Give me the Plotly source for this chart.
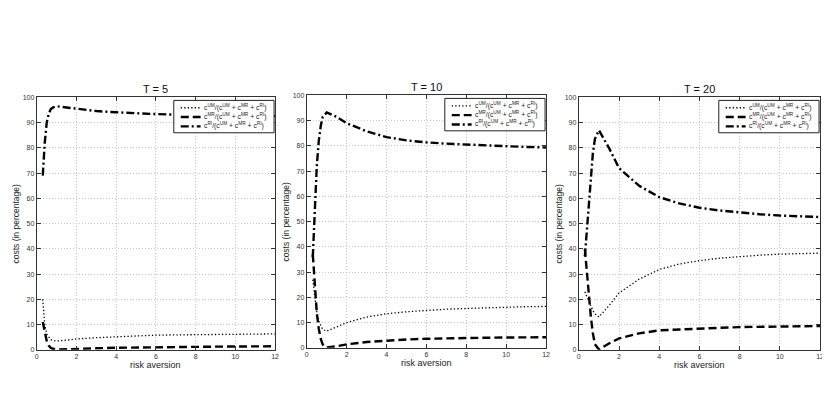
import plotly.graph_objects as go

# ---------------- data ----------------
risk_aversion = [0.3, 0.4, 0.5, 0.6, 0.7, 0.8, 1.0, 1.5, 2, 3, 4, 5, 6, 7, 8, 9, 10, 11, 12]

titles = ["T = 5", "T = 10", "T = 20"]

um_T5 = [20, 10, 6.2, 4.8, 4.0, 3.7, 3.5, 3.8, 4.3, 4.8, 5.2, 5.5, 5.8, 5.9, 6.0, 6.1, 6.2, 6.25, 6.3]
mr_T5 = [11, 7, 3.5, 1.7, 0.8, 0.4, 0.1, 0.2, 0.4, 0.6, 0.8, 0.95, 1.05, 1.15, 1.2, 1.25, 1.3, 1.35, 1.4]
ri_T5 = [69, 82, 90, 93.5, 95.3, 96.0, 96.5, 96.0, 95.3, 94.6, 94.1, 93.7, 93.4, 93.2, 93.0, 92.9, 92.8, 92.7, 92.6]

um_T10 = [27, 20, 14, 10.5, 8.5, 7.3, 6.6, 8.3, 10, 12.2, 13.5, 14.3, 14.9, 15.3, 15.6, 15.9, 16.1, 16.3, 16.4]
mr_T10 = [37, 25, 14, 7.5, 3.5, 1.3, 0.1, 0.6, 1.4, 2.3, 2.9, 3.3, 3.6, 3.8, 3.9, 4.0, 4.1, 4.15, 4.2]
ri_T10 = [36, 55, 72, 82, 88, 91.5, 93.3, 91.5, 89, 85.8, 83.5, 82.2, 81.4, 80.9, 80.5, 80.2, 79.9, 79.6, 79.4]

um_T20 = [23, 21, 19, 17, 15.5, 14.3, 13, 17.5, 22.5, 28, 31.8, 34, 35.3, 36.3, 37, 37.5, 37.9, 38.1, 38.3]
mr_T20 = [40, 31, 21, 13, 6.5, 2.2, 0.1, 2.5, 4.5, 6.5, 7.7, 8.1, 8.4, 8.7, 9.0, 9.1, 9.2, 9.3, 9.4]
ri_T20 = [37, 48, 60, 70, 78, 83.5, 87, 80, 72, 65, 60.5, 58, 56.3, 55.2, 54.4, 53.7, 53.2, 52.9, 52.6]

x_ticks = [0, 2, 4, 6, 8, 10, 12]
y_ticks = [0, 10, 20, 30, 40, 50, 60, 70, 80, 90, 100]

series_names = [
    "c<sup>UM</sup>/(c<sup>UM</sup> + c<sup>MR</sup> + c<sup>RI</sup>)",
    "c<sup>MR</sup>/(c<sup>UM</sup> + c<sup>MR</sup> + c<sup>RI</sup>)",
    "c<sup>RI</sup>/(c<sup>UM</sup> + c<sup>MR</sup> + c<sup>RI</sup>)",
]
panels = [(um_T5, mr_T5, ri_T5), (um_T10, mr_T10, ri_T10), (um_T20, mr_T20, ri_T20)]

# ---------------- layout (pixel boxes, in window pixels) ----------------
OFF = 8                      # page body margin of the browser
W, H = 822, 388
def fx(px):
    return (px - OFF) / W
def fy(py):
    return 1 - (py - OFF) / H

boxes = [(35, 275, 95, 352), (307, 548, 93, 350), (581, 824, 95, 352)]
ytitle_x = [14, 286, 561]
title_y = [86, 84, 86]
styles = [
    dict(dash="1.3px,2.2px", width=1.3),
    dict(dash="8px,4px", width=2.4),
    dict(dash="8px,3px,2px,3px", width=2.4),
]
FONT = "Liberation Sans, Arial, sans-serif"

fig = go.Figure()
layout = dict(
    width=W, height=H, margin=dict(l=0, r=0, t=0, b=0),
    paper_bgcolor="white", plot_bgcolor="white", showlegend=False,
    font=dict(family=FONT, color="#222"), annotations=[], shapes=[],
)

for i, ((x0, x1, y0, y1), vals, title) in enumerate(zip(boxes, panels, titles)):
    n = "" if i == 0 else str(i + 1)
    for j, (v, name) in enumerate(zip(vals, series_names)):
        fig.add_trace(go.Scatter(
            x=risk_aversion, y=v, mode="lines", name=name,
            line=dict(color="black", **styles[j]),
            xaxis="x" + n, yaxis="y" + n,
        ))
    axcommon = dict(
        showline=True, linecolor="#333", linewidth=1, mirror="ticks",
        ticks="inside", ticklen=4, tickcolor="#333",
        showgrid=True, gridcolor="#c8c8c8", griddash="1px,2px", gridwidth=1,
        zeroline=False, tickfont=dict(size=7, color="#333", family=FONT),
    )
    layout["xaxis" + n] = dict(
        domain=[fx(x0), fx(x1)], range=[0, 12], tickvals=x_ticks,
        anchor="y" + n, **axcommon)
    layout["yaxis" + n] = dict(
        domain=[fy(y1), fy(y0)], range=[0, 100], tickvals=y_ticks,
        anchor="x" + n, **axcommon)

    # legend box (drawn in page pixels)
    br = x1 - 1
    bl = br - 101
    bt = y0 + 3
    bb = bt + 33
    layout["shapes"].append(dict(
        type="rect", xref="paper", yref="paper",
        x0=fx(bl), x1=fx(br), y0=fy(bb), y1=fy(bt),
        line=dict(color="#222", width=1), fillcolor="white", layer="above"))
    for j, name in enumerate(series_names):
        ry = bt + 7.5 + 9.5 * j
        layout["shapes"].append(dict(
            type="line", xref="paper", yref="paper",
            x0=fx(bl + 7), x1=fx(bl + 27), y0=fy(ry), y1=fy(ry),
            line=dict(color="black", **styles[j]), layer="above"))
        layout["annotations"].append(dict(
            text=name, x=fx(bl + 28), y=fy(ry - 0.5), xref="paper", yref="paper",
            xanchor="left", yanchor="middle", showarrow=False,
            font=dict(size=6.8, family=FONT, color="#222")))

    cx = (x0 + x1) / 2
    layout["annotations"] += [
        dict(text=title, x=fx(cx), y=fy(title_y[i]), xref="paper", yref="paper",
             xanchor="center", yanchor="middle",
             showarrow=False, font=dict(size=11, family=FONT, color="#111")),
        dict(text="risk aversion", x=fx(cx), y=fy(y1 + 15), xref="paper", yref="paper",
             xanchor="center", yanchor="middle",
             showarrow=False, font=dict(size=9, family=FONT, color="#222")),
        dict(text="costs (in percentage)", x=fx(ytitle_x[i]), y=fy((y0 + y1) / 2),
             xref="paper", yref="paper", textangle=-90, showarrow=False,
             xanchor="center", yanchor="middle",
             font=dict(size=8.5, family=FONT, color="#222")),
    ]

fig.update_layout(**layout)
fig.write_html("out.html")
